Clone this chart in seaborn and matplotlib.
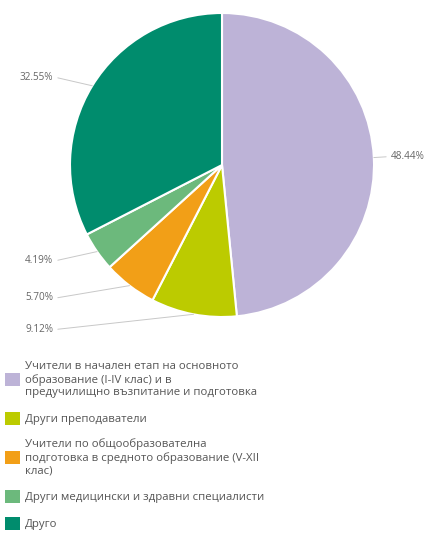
import numpy as np
import matplotlib
matplotlib.use("Agg")
import matplotlib.pyplot as plt
import matplotlib.patches as mpatches
import seaborn as sns

# data
categories = [
    "Учители в начален етап на основното\nобразование (I-IV клас) и в\nпредучилищно възпитание и подготовка",
    "Други преподаватели",
    "Учители по общообразователна\nподготовка в средното образование (V-XII\nклас)",
    "Други медицински и здравни специалисти",
    "Друго",
]
shares = [48.44, 9.12, 5.70, 4.19, 32.55]
pct_labels = ["48.44%", "9.12%", "5.70%", "4.19%", "32.55%"]
colors = ["#bdb3d7", "#bccb00", "#f29f17", "#6cb97c", "#008c6d"]

sns.set_theme(style="white")
plt.rcParams["font.family"] = ["Open Sans", "DejaVu Sans"]

fig = plt.figure(figsize=(4.29, 5.38), dpi=100)
# pie axes: centre ~ (222,165) px, radius ~152 px
W, H = 429, 538
cx, cy, r = 222, 165, 152
ax = fig.add_axes([(cx - r) / W, 1 - (cy + r) / H, 2 * r / W, 2 * r / H])

wedges, _ = ax.pie(
    shares, colors=sns.color_palette(colors), startangle=90, counterclock=False,
    radius=1, wedgeprops=dict(edgecolor="white", linewidth=1.5),
)
ax.set_xlim(-1, 1)
ax.set_ylim(-1, 1)
ax.set_aspect("equal")
ax.axis("off")

for w, lab in zip(wedges, pct_labels):
    mid = np.deg2rad((w.theta1 + w.theta2) / 2)
    ex, ey = np.cos(mid), np.sin(mid)
    ty = 1.1 * ey
    side = 1 if ex > 0 else -1
    tx = 1.11 * side
    ax.plot([ex, tx - 0.03 * side], [ey, ty], color="#c8c8c8", lw=0.7, clip_on=False)
    ax.text(tx, ty, lab, ha="left" if side > 0 else "right", va="center",
            fontsize=7.2, color="#666666", clip_on=False)

handles = [mpatches.Patch(facecolor=c, edgecolor="none") for c in colors]
leg = fig.legend(
    handles, categories, loc="upper left", bbox_to_anchor=(5 / W, 1 - 361 / H),
    frameon=False, fontsize=8.2, labelcolor="#555555",
    handlelength=1.35, handleheight=1.35, handletextpad=0.4,
    labelspacing=1.2, borderpad=0, borderaxespad=0,
)

fig.savefig("out.png", dpi=100)
